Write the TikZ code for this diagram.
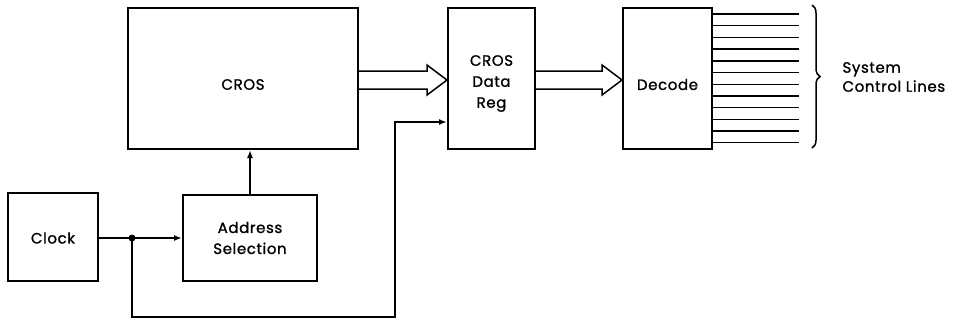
\documentclass[tikz,border=0pt]{standalone}
\usepackage{fontspec}
\setmainfont{Poppins}[FakeBold=1.2,LetterSpace=4]
\usetikzlibrary{arrows.meta,decorations.pathreplacing,calc}
\begin{document}
\begin{tikzpicture}[x=1pt,y=-1pt,
  txt/.style={align=center,font=\fontsize{15}{21}\selectfont},
  blk/.style={draw,line width=2pt,inner sep=0pt},
  ln/.style={line width=1.6pt},
  arr/.style={ln,-{Latex[length=8pt,width=6pt]}},
  fat/.style={line width=1.5pt,line join=miter}]
\useasboundingbox (0,0) rectangle (956,322);
\node[blk,minimum width=230pt,minimum height=141pt,label={[txt,yshift=-6pt]center:CROS}] (cros) at (243,78.5) {};
\node[blk,minimum width=87pt,minimum height=141pt,label={[txt,yshift=-5pt]center:CROS\\Data\\Reg}] (reg) at (491.5,78.5) {};
\node[blk,minimum width=89pt,minimum height=141pt,label={[txt,yshift=-6pt]center:Decode}] (dec) at (667.5,78.5) {};
\node[blk,minimum width=90pt,minimum height=88pt,label={[txt,yshift=-1pt]center:Clock}] (clk) at (53,237) {};
\node[blk,minimum width=134pt,minimum height=86pt,label={[txt]center:Address\\Selection}] (adr) at (250,238) {};
% double arrows
\draw[fat] (cros.east |- 0,71) -- (427,71) -- (427,65) -- (reg.west |- 0,80) -- (427,95) -- (427,89) -- (cros.east |- 0,89);
\draw[fat] (reg.east |- 0,71) -- (602,71) -- (602,65) -- (dec.west |- 0,80) -- (602,95) -- (602,89) -- (reg.east |- 0,89);
% clock connections
\coordinate (j) at (132,238);
\coordinate (b1) at (132,317);
\coordinate (b2) at (395,317);
\coordinate (b3) at (395,122);
\draw[ln] (clk.east |- j) -- (j);
\draw[arr] (j) -- (adr.west |- j);
\fill (j) circle (3.5pt);
\draw[arr] (j) -- (b1) -- (b2) -- (b3) -- (reg.west |- b3);
\draw[arr] (adr.north) -- (adr.north |- cros.south);
% control lines
\foreach \yy in {14,25.7,37.4,49.1,60.8,72.5,84.2,95.9,107.6,119.3,131,142.7}
  \draw[line width=1.4pt] (dec.east |- 0,\yy) -- (799,\yy);
\draw[line width=1.5pt,decorate,decoration={brace,amplitude=8pt}] (812,5) -- (812,148);
\node[anchor=west,align=left,font=\fontsize{15}{19}\selectfont] (lbl) at (839,77) {System\\Control Lines};
\end{tikzpicture}
\end{document}
